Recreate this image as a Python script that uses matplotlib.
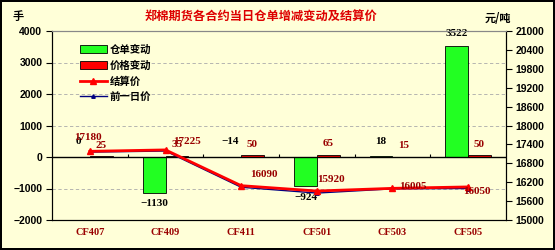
import matplotlib
matplotlib.use("Agg")
import matplotlib.pyplot as plt
import numpy as np

plt.rcParams['font.family'] = ['Noto Sans CJK SC', 'DejaVu Sans']

# contracts and values
contracts = ["CF407", "CF409", "CF411", "CF501", "CF503", "CF505"]
warrant_change = [0, -1130, -14, -924, 18, 3522]
price_change = [25, 35, 50, 65, 15, 50]
settle_price = [17180, 17225, 16090, 15920, 16005, 16050]
prev_price = [17155, 17190, 16040, 15855, 15990, 16000]

# label offsets for settle prices (pixels)
settle_offsets = [(-2, 14), (22, 8), (23, 11), (14, 12), (20, 2), (9, -5)]

bg = "#FFFFD8"
dark_red = "#990000"

fig = plt.figure(figsize=(5.55, 2.5), dpi=100)
fig.patch.set_facecolor(bg)
fig.patch.set_edgecolor("black")
fig.patch.set_linewidth(1.5)

ax = fig.add_axes([0.0937, 0.12, 0.818, 0.756])
ax.set_facecolor(bg)
x = np.arange(len(contracts))
w = 0.3

b1 = ax.bar(x - w / 2, warrant_change, w, color="#22FF22", edgecolor="black", linewidth=0.6, label="仓单变动", zorder=3)
b2 = ax.bar(x + w / 2, price_change, w, color="#FF0000", edgecolor="black", linewidth=0.6, label="价格变动", zorder=3)

ax.set_xlim(-0.5, 5.5)
ax.set_ylim(-2000, 4000)
ax.set_yticks(np.arange(-2000, 4001, 1000))
for yy in [-1000, 1000, 2000, 3000]:
    ax.axhline(yy, color="#AAAAAA", lw=0.6, ls=(0, (4, 3)), zorder=1)
ax.axhline(0, color="black", lw=1, zorder=4)
ax.vlines(np.arange(0.5, 5.5, 1), 0, 80, color="black", lw=0.8, zorder=4)

ax.set_xticks(x)
ax.set_xticklabels(contracts, color=dark_red, fontweight="bold", fontsize=7.5, family=["Liberation Serif"])
ax.tick_params(axis="x", length=0, pad=6)
ax.tick_params(axis="y", direction="out", length=4, labelsize=7.5, pad=3)
for lab in ax.get_yticklabels():
    lab.set_fontweight("bold")
    lab.set_family(["Liberation Sans"])
for s in ax.spines.values():
    s.set_linewidth(0.8)
ax.spines["top"].set_color("#888888")

# bar labels
for xi, v in zip(x, warrant_change):
    if v < -100:
        ax.annotate(str(v).replace("-", "\u2212"), (xi - w / 2, v), xytext=(0, -11), textcoords="offset pixels",
                    ha="center", va="center", fontsize=8, fontweight="bold", family=["Liberation Serif"], zorder=6)
    else:
        dy = 13 if v > 100 else 15
        ax.annotate(str(v).replace("-", "\u2212"), (xi - w / 2, max(v, 0)), xytext=(0, dy), textcoords="offset pixels",
                    ha="center", va="center", fontsize=8, fontweight="bold", family=["Liberation Serif"], zorder=6)
for xi, v in zip(x, price_change):
    ax.annotate(str(v), (xi + w / 2, v), xytext=(0, 11), textcoords="offset pixels", fontweight="bold",
                ha="center", va="center", fontsize=8, color=dark_red, family=["Liberation Serif"], zorder=6)

# prices on right axis
ax2 = ax.twinx()
ax2.set_ylim(15000, 21000)
ax2.set_yticks(np.arange(15000, 21001, 600))
ax2.tick_params(axis="y", direction="out", length=4, labelsize=7.5, pad=3)
for lab in ax2.get_yticklabels():
    lab.set_fontweight("bold")
    lab.set_family(["Liberation Sans"])
for s in ax2.spines.values():
    s.set_linewidth(0.8)
ax2.spines["top"].set_color("#888888")

l2, = ax2.plot(x, prev_price, color="#000080", lw=1, marker="^", ms=2.5, label="前一日价", zorder=4)
l1, = ax2.plot(x, settle_price, color="#FF0000", lw=2, marker="^", ms=5, label="结算价", zorder=5)
for xi, v, off in zip(x, settle_price, settle_offsets):
    ax2.annotate(str(v), (xi, v), xytext=off, textcoords="offset pixels", ha="center", va="center",
                 fontsize=8, fontweight="bold", color=dark_red, family=["Liberation Serif"], zorder=6)

ax.legend([b1, b2, l1, l2], ["仓单变动", "价格变动", "结算价", "前一日价"], loc="upper left",
          bbox_to_anchor=(0.04, 0.98), frameon=False, prop={"size": 7.5, "weight": "bold"},
          handlelength=2.6, handleheight=0.8, labelspacing=0.55, handletextpad=0.3)

fig.text(0.47, 0.935, "郑棉期货各合约当日仓单增减变动及结算价", color="#DD0000", fontsize=8.8,
         fontweight="bold", ha="center", va="center")
fig.text(0.023, 0.935, "手", fontsize=8, fontweight="bold", ha="left", va="center")
fig.text(0.873, 0.925, "元/吨", fontsize=8, fontweight="bold", ha="left", va="center")

fig.savefig("out.png", dpi=100, facecolor=bg, edgecolor="black")
